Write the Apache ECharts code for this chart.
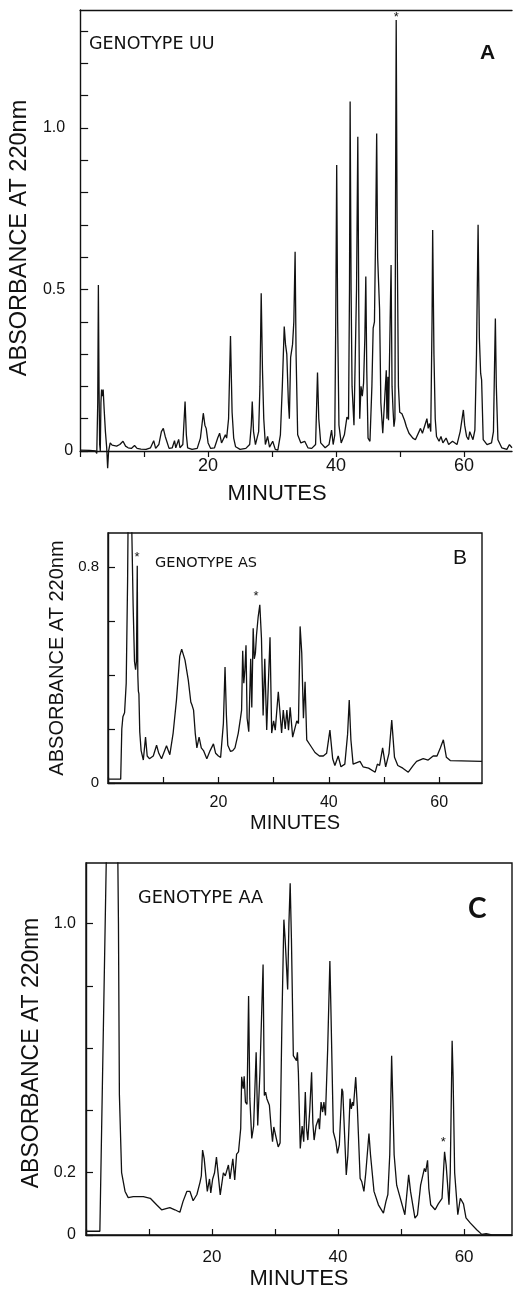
<!DOCTYPE html>
<html><head><meta charset="utf-8">
<script src="https://cdn.jsdelivr.net/npm/echarts@6/dist/echarts.min.js"></script>
<style>html,body{margin:0;padding:0;background:#fff}#c{width:513px;height:1291px}</style>
</head><body><div id="c"></div>
<script>
// ---------- Panel A : genotype UU ----------
const minutesA = [
 0, 1.5, 2.4, 2.6, 2.75, 2.85, 2.95, 3.05, 3.15, 3.25,
 3.35, 3.5, 3.6, 3.75, 3.95, 4.15, 4.3, 4.45, 4.7, 5.0,
 5.3, 5.7, 6.2, 6.7, 7.1, 7.5, 8.0, 8.5, 8.9, 9.5,
 10.3, 11.0, 11.5, 11.8, 12.3, 12.7, 13.0, 13.3, 13.9, 14.4,
 14.75, 14.95, 15.2, 15.4, 15.6, 16.05, 16.4, 16.6, 16.8, 17.5,
 18.3, 18.8, 19.25, 19.5, 19.7, 20.0, 20.4, 21.0, 21.5, 21.8,
 22.1, 22.4, 22.7, 22.9, 23.2, 23.5, 23.75, 24.0, 24.3, 25.0,
 25.9, 26.5, 26.75, 26.9, 27.1, 27.4, 27.9, 28.1, 28.3, 28.5,
 28.7, 28.95, 29.3, 29.6, 30.1, 30.5, 30.9, 31.3, 31.6, 31.9,
 32.1, 32.3, 32.55, 32.7, 32.9, 33.2, 33.4, 33.6, 33.75, 34.0,
 34.5, 35.1, 35.6, 36.2, 36.8, 37.1, 37.3, 37.6, 38.3, 38.9,
 39.3, 39.55, 39.8, 39.95, 40.1, 40.25, 40.45, 40.8, 41.3, 41.7,
 41.95, 42.1, 42.2, 42.35, 42.5, 42.8, 43.2, 43.4, 43.55, 43.7,
 43.9, 44.1, 44.3, 44.5, 44.65, 44.8, 45.0, 45.3, 45.6, 45.8,
 46.0, 46.2, 46.35, 46.5, 46.65, 46.8, 47.0, 47.3, 47.6, 47.85,
 47.95, 48.1, 48.2, 48.45, 48.6, 48.75, 48.9, 49.05, 49.2, 49.3,
 49.4, 49.55, 49.75, 49.95, 50.3, 50.7, 51.0, 51.4, 52.0, 52.4,
 53.2, 53.5, 53.8, 54.2, 54.4, 54.6, 54.8, 55.0, 55.1, 55.3,
 55.5, 55.7, 56.1, 56.4, 56.7, 57.2, 57.6, 58.2, 58.9, 59.4,
 59.7, 59.9, 60.1, 60.4, 60.7, 60.9, 61.4, 61.7, 61.95, 62.2,
 62.4, 62.6, 62.75, 63.0, 63.6, 64.3, 64.6, 64.8, 64.9, 65.05,
 65.3, 65.9, 66.7, 67.1, 67.5
];
const absorbA = [
 0.003, 0.002, 0.0, -0.008, 0.15, 0.514, 0.2, 0.02, 0.0, 0.15,
 0.19, 0.17, 0.19, 0.13, 0.06, 0.01, -0.053, 0.0, 0.025, 0.018,
 0.02, 0.015, 0.02, 0.03, 0.015, 0.01, 0.008, 0.017, 0.008, 0.006,
 0.005, 0.01, 0.032, 0.008, 0.02, 0.06, 0.07, 0.045, 0.008, 0.01,
 0.032, 0.01, 0.015, 0.036, 0.01, 0.02, 0.153, 0.05, 0.01, 0.005,
 0.008, 0.04, 0.117, 0.08, 0.07, 0.025, 0.008, 0.01, 0.04, 0.055,
 0.025, 0.03, 0.05, 0.04, 0.1, 0.356, 0.12, 0.04, 0.013, 0.005,
 0.008, 0.02, 0.08, 0.153, 0.06, 0.02, 0.06, 0.2, 0.488, 0.25,
 0.1, 0.02, 0.045, 0.012, 0.03, 0.005, 0.003, 0.05, 0.2, 0.385,
 0.33, 0.3, 0.15, 0.1, 0.29, 0.33, 0.4, 0.617, 0.3, 0.05,
 0.025, 0.03, 0.01, 0.008, 0.02, 0.243, 0.1, 0.025, 0.01, 0.02,
 0.065, 0.02, 0.05, 0.4, 0.885, 0.4, 0.08, 0.025, 0.05, 0.105,
 0.098, 0.5, 1.082, 0.5, 0.2, 0.08, 0.5, 0.973, 0.45, 0.1,
 0.2, 0.17, 0.21, 0.35, 0.54, 0.25, 0.04, 0.03, 0.2, 0.38,
 0.4, 0.7, 0.983, 0.6, 0.52, 0.44, 0.15, 0.055, 0.05, 0.25,
 0.1, 0.23, 0.095, 0.4, 0.576, 0.2, 0.13, 0.075, 0.1, 0.8,
 1.334, 0.67, 0.2, 0.12, 0.115, 0.095, 0.075, 0.055, 0.04, 0.035,
 0.07, 0.055, 0.06, 0.1, 0.07, 0.085, 0.06, 0.4, 0.684, 0.3,
 0.1, 0.045, 0.03, 0.045, 0.025, 0.04, 0.02, 0.03, 0.02, 0.06,
 0.1, 0.127, 0.08, 0.045, 0.035, 0.06, 0.035, 0.065, 0.3, 0.7,
 0.35, 0.24, 0.22, 0.035, 0.02, 0.025, 0.06, 0.3, 0.41, 0.2,
 0.035, 0.01, 0.005, 0.02, 0.01
];
const starsA = [[49.4, 1.334]];

// ---------- Panel B : genotype AS ----------
const minutesB = [
 0, 2.3, 2.5, 2.7, 3.0, 3.3, 3.55, 3.9, 4.3, 4.55,
 4.8, 5.0, 5.15, 5.3, 5.4, 5.5, 5.6, 5.75, 6.0, 6.4,
 6.8, 7.1, 7.5, 8.2, 8.8, 9.2, 9.7, 10.6, 11.2, 11.8,
 12.4, 13.0, 13.35, 13.95, 14.55, 15.0, 15.2, 15.5, 15.8, 16.1,
 16.5, 16.9, 17.3, 17.9, 18.5, 19.1, 19.5, 20.0, 20.4, 20.9,
 21.2, 21.45, 21.7, 22.2, 22.6, 23.0, 23.6, 24.0, 24.2, 24.4,
 24.6, 24.8, 25.0, 25.2, 25.5, 25.85, 26.05, 26.3, 26.5, 26.7,
 26.9, 27.2, 27.5, 27.8, 28.1, 28.4, 28.75, 29.05, 29.35, 29.65,
 30.0, 30.3, 30.85, 31.45, 31.75, 32.1, 32.4, 32.7, 33.0, 33.45,
 34.2, 34.5, 34.8, 35.1, 35.4, 35.7, 36.0, 36.7, 37.5, 38.3,
 39.0, 39.6, 40.2, 40.7, 41.1, 41.7, 42.2, 42.9, 43.4, 43.7,
 44.0, 44.4, 45.65, 46.2, 47.2, 48.4, 48.8, 49.2, 49.75, 50.3,
 50.9, 51.4, 51.9, 52.5, 53.4, 54.4, 55.3, 55.9, 57.1, 58.0,
 58.9, 59.6, 60.2, 60.75, 61.3, 62.0, 64.0, 67.75
];
const absorbB = [
 0.014, 0.014, 0.2, 0.245, 0.26, 0.37, 0.75, 1.6, 0.95, 0.66,
 0.45, 0.42, 0.45, 0.805, 0.4, 0.34, 0.33, 0.19, 0.12, 0.085,
 0.17, 0.1, 0.09, 0.1, 0.14, 0.11, 0.09, 0.138, 0.105, 0.185,
 0.307, 0.47, 0.496, 0.455, 0.38, 0.3, 0.29, 0.27, 0.185, 0.13,
 0.17, 0.13, 0.12, 0.09, 0.12, 0.145, 0.11, 0.1, 0.095, 0.22,
 0.43, 0.25, 0.14, 0.117, 0.12, 0.13, 0.185, 0.24, 0.27, 0.49,
 0.37, 0.42, 0.51, 0.24, 0.19, 0.46, 0.28, 0.573, 0.46, 0.48,
 0.548, 0.615, 0.66, 0.535, 0.25, 0.46, 0.196, 0.37, 0.54, 0.185,
 0.23, 0.196, 0.338, 0.185, 0.27, 0.2, 0.27, 0.196, 0.28, 0.17,
 0.23, 0.22, 0.58, 0.48, 0.24, 0.375, 0.16, 0.138, 0.113, 0.1,
 0.1, 0.11, 0.196, 0.09, 0.065, 0.1, 0.06, 0.07, 0.18, 0.307,
 0.16, 0.07, 0.08, 0.06, 0.055, 0.04, 0.07, 0.065, 0.13, 0.06,
 0.11, 0.233, 0.095, 0.065, 0.055, 0.04, 0.065, 0.08, 0.09, 0.085,
 0.1, 0.1, 0.13, 0.16, 0.095, 0.083, 0.082, 0.08
];
const starsB = [[5.25, 0.805], [26.8, 0.66]];

// ---------- Panel C : genotype AA ----------
const minutesC = [
 0, 2.2, 3.3, 4.2, 5.15, 5.3, 5.65, 6.2, 6.7, 7.5,
 9.1, 10.2, 11.2, 12.0, 12.7, 13.3, 14.1, 14.9, 15.4, 16.0,
 16.5, 17.0, 17.2, 17.6, 18.1, 18.3, 18.5, 18.75, 19.25, 19.6,
 19.8, 20.1, 20.4, 20.7, 21.3, 21.8, 22.1, 22.6, 22.85, 23.3,
 23.6, 23.9, 24.2, 24.55, 24.7, 24.95, 25.1, 25.3, 25.55, 25.8,
 26.0, 26.3, 26.6, 27.0, 27.25, 27.6, 28.1, 28.3, 28.5, 28.7,
 29.1, 29.35, 29.6, 29.8, 30.2, 30.5, 30.8, 31.1, 31.4, 31.6,
 32.0, 32.2, 32.4, 32.6, 32.9, 33.2, 33.4, 33.55, 33.7, 34.0,
 34.3, 34.55, 34.8, 35.0, 35.2, 35.5, 35.8, 36.0, 36.2, 36.5,
 36.9, 37.05, 37.3, 37.55, 37.75, 38.0, 38.35, 38.7, 38.85, 39.25,
 39.65, 39.9, 40.2, 40.6, 40.75, 41.3, 41.55, 41.9, 42.1, 42.3,
 42.45, 42.8, 43.05, 43.5, 43.75, 44.1, 44.4, 44.9, 45.15, 45.7,
 46.4, 47.2, 47.6, 47.9, 48.2, 48.5, 48.65, 48.9, 49.3, 49.6,
 50.6, 51.2, 51.5, 52.2, 52.6, 53.1, 53.7, 53.9, 54.2, 54.4,
 54.7, 55.4, 55.9, 56.5, 56.9, 57.15, 57.35, 57.6, 57.8, 58.1,
 58.25, 58.5, 59.0, 59.4, 59.9, 60.3, 61.0, 62.0, 62.8, 63.5,
 64.4, 67.6
];
const absorbC = [
 0.012, 0.012, 1.3, 3.0, 1.0, 0.45, 0.2, 0.14, 0.12, 0.123,
 0.123, 0.118, 0.097, 0.081, 0.085, 0.088, 0.081, 0.073, 0.108, 0.14,
 0.14, 0.11, 0.108, 0.13, 0.17, 0.19, 0.273, 0.246, 0.14, 0.18,
 0.135, 0.18, 0.2, 0.25, 0.129, 0.2, 0.19, 0.225, 0.18, 0.245,
 0.177, 0.26, 0.267, 0.342, 0.508, 0.47, 0.51, 0.427, 0.42, 0.768,
 0.438, 0.31, 0.35, 0.587, 0.352, 0.523, 0.869, 0.448, 0.459, 0.438,
 0.417, 0.352, 0.3, 0.347, 0.31, 0.283, 0.296, 0.7, 1.013, 0.95,
 0.789, 1.0, 1.13, 0.95, 0.576, 0.57, 0.56, 0.587, 0.523, 0.278,
 0.35, 0.3, 0.459, 0.342, 0.305, 0.4, 0.523, 0.36, 0.305, 0.35,
 0.374, 0.34, 0.427, 0.395, 0.427, 0.384, 0.597, 0.88, 0.74, 0.331,
 0.3, 0.262, 0.29, 0.47, 0.46, 0.193, 0.255, 0.438, 0.405, 0.427,
 0.415, 0.507, 0.415, 0.182, 0.172, 0.14, 0.2, 0.326, 0.257, 0.14,
 0.097, 0.07, 0.108, 0.13, 0.257, 0.576, 0.459, 0.257, 0.16, 0.16,
 0.065, 0.193, 0.14, 0.054, 0.065, 0.16, 0.214, 0.203, 0.24, 0.15,
 0.097, 0.081, 0.1, 0.118, 0.267, 0.225, 0.17, 0.097, 0.2, 0.624,
 0.51, 0.2, 0.065, 0.118, 0.1, 0.055, 0.038, 0.017, 0.002, 0.004,
 0.0, 0.0
];
const starsC = [[56.7, 0.267]];

// ---------- axis ticks & labels ----------
const xTicks = [0, 10, 20, 30, 40, 50, 60];
const xLabelVals = [20, 40, 60];
const yTicksA = [0, 0.1, 0.2, 0.3, 0.4, 0.5, 0.6, 0.7, 0.8, 0.9, 1.0, 1.1, 1.2, 1.3];
const yLabelValsA = [0, 0.5, 1.0];
const yLabelTxtA = ['0', '0.5', '1.0'];
const yTicksB = [0, 0.2, 0.4, 0.6, 0.8];
const yLabelValsB = [0, 0.8];
const yLabelTxtB = ['0', '0.8'];
const yTicksC = [0, 0.2, 0.4, 0.6, 0.8, 1.0];
const yLabelValsC = [0, 0.2, 1.0];
const yLabelTxtC = ['0', '0.2', '1.0'];

const yTitle = 'ABSORBANCE AT 220nm';
const xTitle = 'MINUTES';
const panelTitles = ['GENOTYPE UU', 'GENOTYPE AS', 'GENOTYPE AA'];
const panelLetters = ['A', 'B', 'C'];

// ---------- build ----------
const pairs = (xs, ys) => xs.map((x, i) => [x, ys[i]]);
const INK = '#111';
const SANS = 'Liberation Sans, Arial, sans-serif';
const LETTER = 'DejaVu Sans, sans-serif';
const axisLine = { show: true, onZero: false, lineStyle: { color: INK, width: 1.4 } };
const tickStyle = { color: INK, width: 1.2 };
const pick = (vals, txt) => v => {
  const i = vals.findIndex(t => Math.abs(t - v) < 1e-6);
  return i < 0 ? '' : txt[i];
};

function xAxisFor(grid, max, opts) {
  return {
    gridIndex: grid, type: 'value', min: 0, max: max,
    axisLine: axisLine,
    axisTick: { show: true, customValues: xTicks, inside: opts.inside, length: opts.tickLen, lineStyle: tickStyle },
    axisLabel: { customValues: xLabelVals, margin: opts.margin, fontSize: opts.labelSize, fontFamily: SANS, color: INK },
    splitLine: { show: false },
    name: xTitle, nameLocation: 'middle', nameGap: opts.nameGap,
    nameTextStyle: { fontSize: opts.nameSize, fontFamily: SANS, color: INK, padding: opts.namePad }
  };
}
function yAxisFor(grid, max, ticks, vals, txt, opts) {
  return {
    gridIndex: grid, type: 'value', min: 0, max: max,
    axisLine: axisLine,
    axisTick: { show: true, customValues: ticks, inside: true, length: opts.tickLen, lineStyle: tickStyle },
    axisLabel: {
      customValues: vals, margin: opts.margin, fontSize: opts.labelSize, fontFamily: SANS, color: INK,
      formatter: opts.formatter || pick(vals, txt)
    },
    splitLine: { show: false },
    name: yTitle, nameLocation: 'middle', nameRotate: 90, nameGap: opts.nameGap,
    nameTextStyle: { fontSize: opts.nameSize, fontFamily: SANS, color: INK, padding: opts.namePad }
  };
}
function stars(list, dy) {
  return {
    symbol: 'circle', symbolSize: 1, itemStyle: { color: 'rgba(0,0,0,0)' }, animation: false,
    label: { show: true, formatter: '*', position: 'inside', offset: [0, dy], color: INK, fontSize: 13, fontFamily: SANS },
    data: list.map(c => ({ coord: c }))
  };
}
function trace(xi, yi, data, clip, st) {
  return {
    type: 'line', xAxisIndex: xi, yAxisIndex: yi, data: data, symbol: 'none', showSymbol: false,
    clip: clip, lineStyle: { color: INK, width: 1.3 }, markPoint: st, silent: true
  };
}

// panel A: the hand-lettered "0" sits closer to the axis than "0.5" / "1.0"
const fmtA = v => {
  const i = yLabelValsA.findIndex(t => Math.abs(t - v) < 1e-6);
  if (i < 0) return '';
  return i === 0 ? yLabelTxtA[i] : yLabelTxtA[i] + '\u2002';
};

const option = {
  backgroundColor: '#fff',
  animation: false,
  grid: [
    { left: 71, top: 10, width: 441, height: 441 },
    { left: 108, top: 533, width: 374, height: 250, show: true, borderColor: INK, borderWidth: 1.4 },
    { left: 86, top: 863, width: 426, height: 374, show: true, borderColor: INK, borderWidth: 1.4 }
  ],
  xAxis: [
    xAxisFor(0, 67.5, { inside: false, tickLen: 6, margin: 6, labelSize: 18, nameGap: 32, nameSize: 22, namePad: [0, 38, 0, 0] }),
    { gridIndex: 0, type: 'value', position: 'top', min: 0, max: 67.5, axisLine: axisLine,
      axisTick: { show: false }, axisLabel: { show: false }, splitLine: { show: false } },
    xAxisFor(1, 67.75, { inside: true, tickLen: 6, margin: 12, labelSize: 16, nameGap: 30, nameSize: 20, namePad: [0, 0, 0, 0] }),
    xAxisFor(2, 67.6, { inside: true, tickLen: 6, margin: 14, labelSize: 17, nameGap: 33, nameSize: 22, namePad: [0, 0, 0, 0] })
  ],
  yAxis: [
    yAxisFor(0, 1.365, yTicksA, yLabelValsA, yLabelTxtA, {
      tickLen: 8, margin: 7, labelSize: 16, nameGap: 23, nameSize: 23.5, namePad: [0, 15, 0, 0], formatter: fmtA
    }),
    yAxisFor(1, 0.926, yTicksB, yLabelValsB, yLabelTxtB, { tickLen: 7, margin: 9, labelSize: 15, nameGap: 32, nameSize: 20, namePad: [0, 0, 0, 0] }),
    yAxisFor(2, 1.195, yTicksC, yLabelValsC, yLabelTxtC, { tickLen: 7, margin: 10, labelSize: 16, nameGap: 38, nameSize: 23, namePad: [0, 8, 0, 0] })
  ],
  title: [
    { text: panelTitles[0], left: 89, top: 35.5, padding: 0, textStyle: { fontFamily: LETTER, fontSize: 17.5, fontWeight: 'normal', color: INK } },
    { text: panelLetters[0], left: 480, top: 43, padding: 0, textStyle: { fontFamily: SANS, fontSize: 21, fontWeight: 'bold', color: INK } },
    { text: panelTitles[1], left: 155, top: 555.5, padding: 0, textStyle: { fontFamily: LETTER, fontSize: 14.5, fontWeight: 'normal', color: INK } },
    { text: panelLetters[1], left: 453, top: 548, padding: 0, textStyle: { fontFamily: SANS, fontSize: 21, fontWeight: 'normal', color: INK } },
    { text: panelTitles[2], left: 138, top: 889, padding: 0, textStyle: { fontFamily: LETTER, fontSize: 17.6, fontWeight: 'normal', color: INK } },
    { text: panelLetters[2], left: 468, top: 895, padding: 0, textStyle: { fontFamily: 'Lato, sans-serif', fontSize: 28, fontWeight: 'bold', color: INK } }
  ],
  series: [
    trace(0, 0, pairs(minutesA, absorbA), false, stars(starsA, -3)),
    trace(2, 1, pairs(minutesB, absorbB), true, stars(starsB, -8)),
    trace(3, 2, pairs(minutesC, absorbC), true, stars(starsC, -9))
  ]
};

const chart = echarts.init(document.getElementById('c'), null, { renderer: 'canvas' });
chart.setOption(option);
</script>
</body></html>
